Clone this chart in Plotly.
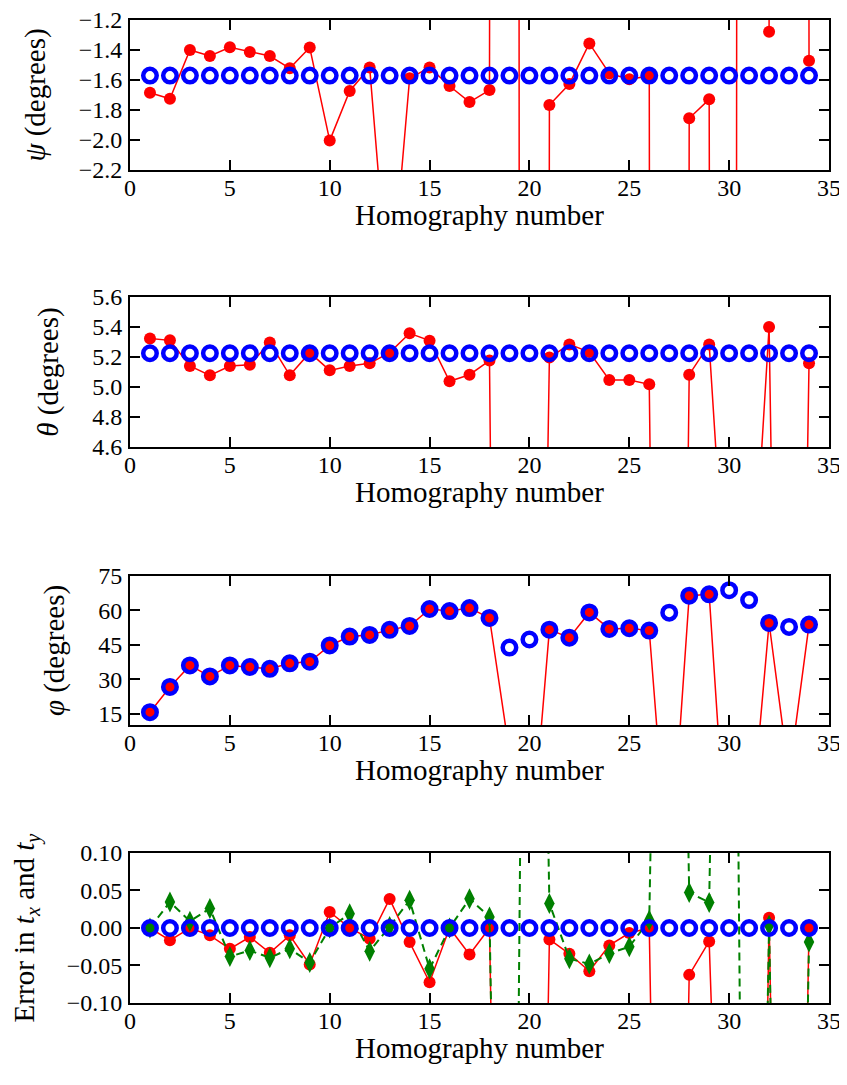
import plotly.graph_objects as go

# ---------------- data ----------------
homography = [1, 2, 3, 4, 5, 6, 7, 8, 9, 10, 11, 12, 13, 14, 15, 16, 17,
              18, 19, 20, 21, 22, 23, 24, 25, 26, 27, 28, 29, 30, 31, 32, 33, 34]

psi_true = [-1.5708, -1.5708, -1.5708, -1.5708, -1.5708, -1.5708, -1.5708,
            -1.5708, -1.5708, -1.5708, -1.5708, -1.5708, -1.5708, -1.5708,
            -1.5708, -1.5708, -1.5708, -1.5708, -1.5708, -1.5708, -1.5708,
            -1.5708, -1.5708, -1.5708, -1.5708, -1.5708, -1.5708, -1.5708,
            -1.5708, -1.5708, -1.5708, -1.5708, -1.5708, -1.5708]
psi_est = [-1.685, -1.725, -1.400, -1.440, -1.382, -1.413, -1.440, -1.522,
           -1.384, -2.004, -1.673, -1.516, -3.140, -1.589, -1.516, -1.640,
           -1.747, -1.667, 100.0, -110.0, -1.767, -1.627, -1.356, -1.556,
           -1.595, -1.573, -100.0, -1.855, -1.729, -62.5, 100.0, -1.278,
           100.0, -1.471]

theta_true = [5.225, 5.225, 5.225, 5.225, 5.225, 5.225, 5.225, 5.225, 5.225,
              5.225, 5.225, 5.225, 5.225, 5.225, 5.225, 5.225, 5.225, 5.225,
              5.225, 5.225, 5.225, 5.225, 5.225, 5.225, 5.225, 5.225, 5.225,
              5.225, 5.225, 5.225, 5.225, 5.225, 5.225, 5.225]
theta_est = [5.324, 5.311, 5.140, 5.078, 5.140, 5.149, 5.296, 5.078, 5.229,
             5.111, 5.140, 5.158, 5.229, 5.358, 5.309, 5.038, 5.082, 5.176,
             -8.0, -3.0, 5.196, 5.284, 5.233, 5.047, 5.047, 5.018, -6.0,
             5.082, 5.284, 3.2, 3.2, 5.400, -3.0, 5.158]

phi_true = [15.6, 26.6, 36.0, 31.2, 36.0, 35.3, 34.5, 36.9, 37.6, 44.7, 48.6,
            49.3, 51.5, 53.2, 60.6, 59.7, 61.0, 56.7, 43.8, 47.3, 51.6, 48.1,
            59.1, 51.9, 52.2, 51.2, 59.0, 66.4, 67.0, 68.8, 64.5, 54.5, 52.8,
            53.8]
phi_est = [15.6, 26.6, 36.0, 31.2, 36.0, 35.3, 34.5, 36.9, 37.6, 44.7, 48.6,
           49.3, 51.5, 53.2, 60.6, 59.7, 61.0, 56.7, -2.0, -53.0, 51.6, 48.1,
           59.1, 51.9, 52.2, 51.2, -60.0, 66.4, 67.0, -65.0, -44.0, 54.5,
           -12.0, 53.8]

t_true = [0.0, 0.0, 0.0, 0.0, 0.0, 0.0, 0.0, 0.0, 0.0, 0.0, 0.0, 0.0, 0.0,
          0.0, 0.0, 0.0, 0.0, 0.0, 0.0, 0.0, 0.0, 0.0, 0.0, 0.0, 0.0, 0.0,
          0.0, 0.0, 0.0, 0.0, 0.0, 0.0, 0.0, 0.0]
tx_err = [0.0, -0.0165, 0.0, -0.0098, -0.0277, -0.012, -0.033, -0.0098,
          -0.0487, 0.0214, 0.0, -0.0143, 0.0388, -0.0188, -0.0723, 0.0,
          -0.0353, 0.0, -1.5, -1.5, -0.0152, -0.0344, -0.0576, -0.0232,
          -0.0067, 0.0, -1.5, -0.0625, -0.0179, -0.8, -1.7, 0.0138, -1.5, 0.0]
ty_err = [0.0, 0.0348, 0.009, 0.026, -0.038, -0.030, -0.0397, -0.0277,
          -0.046, 0.0, 0.019, -0.031, 0.002, 0.037, -0.0545, 0.0, 0.039,
          0.0147, -1.5, 1.5, 0.0326, -0.041, -0.048, -0.034, -0.025, 0.0103,
          1.5, 0.0474, 0.034, 1.5, -1.5, 0.0036, -1.5, -0.0187]

y_titles = ["<i>ψ</i> (degrees)", "<i>θ</i> (degrees)", "<i>φ</i> (degrees)",
            "Error in <i>t<sub>x</sub></i> and <i>t<sub>y</sub></i>"]
x_title = "Homography number"

# ---------------- styling ----------------
FONT = "Liberation Serif"
RED = "#ff0000"
BLUE = "#0000ff"
GREEN = "#008000"

fig = go.Figure()


def red_trace(y, k):
    return go.Scatter(x=homography, y=y, mode="lines+markers",
                      line=dict(color=RED, width=1.5),
                      marker=dict(color=RED, size=12),
                      xaxis="x" if k == 1 else f"x{k}",
                      yaxis="y" if k == 1 else f"y{k}",
                      showlegend=False, hoverinfo="x+y")


def blue_trace(y, k):
    return go.Scatter(x=homography, y=y, mode="markers",
                      marker=dict(color=BLUE, size=13.5, symbol="circle-open",
                                  line=dict(width=4.5, color=BLUE)),
                      xaxis="x" if k == 1 else f"x{k}",
                      yaxis="y" if k == 1 else f"y{k}",
                      showlegend=False, hoverinfo="x+y")


fig.add_trace(red_trace(psi_est, 1))
fig.add_trace(blue_trace(psi_true, 1))
fig.add_trace(red_trace(theta_est, 2))
fig.add_trace(blue_trace(theta_true, 2))
fig.add_trace(red_trace(phi_est, 3))
fig.add_trace(blue_trace(phi_true, 3))
fig.add_trace(red_trace(tx_err, 4))
fig.add_trace(go.Scatter(x=homography, y=ty_err, mode="lines+markers",
                         line=dict(color=GREEN, width=2, dash="8px,5px"),
                         marker=dict(color=GREEN, size=15, symbol="diamond-tall"),
                         xaxis="x4", yaxis="y4", showlegend=False,
                         hoverinfo="x+y"))
fig.add_trace(blue_trace(t_true, 4))

domains = [[0.8474, 1.0], [0.5656, 0.7182], [0.2828, 0.4344], [0.0, 0.1526]]
yranges = [[-2.2, -1.2], [4.6, 5.6], [10, 75], [-0.1, 0.1]]
yticks = [dict(dtick=0.2, tick0=-2.2, tickformat=".1f"),
          dict(dtick=0.2, tick0=4.6, tickformat=".1f"),
          dict(tickmode="array", tickvals=[15, 30, 45, 60, 75]),
          dict(dtick=0.05, tick0=-0.1, tickformat=".2f")]
ystand = [25, 25, 25, 26]

common = dict(showline=True, linecolor="black", linewidth=2, mirror="allticks",
              ticks="inside", ticklen=10, tickwidth=1.5, tickcolor="black",
              showgrid=False, zeroline=False, automargin=False,
              ticklabeloverflow="allow",
              tickfont=dict(family=FONT, size=24, color="black"))

# page body has an 8px default margin: figure is sized/placed to compensate
layout = dict(width=835, height=1069, plot_bgcolor="white", paper_bgcolor="white",
              margin=dict(l=122, r=14, t=12, b=74), showlegend=False,
              font=dict(family=FONT, color="black"))

annotations = []
for k in range(1, 5):
    xs = "xaxis" if k == 1 else f"xaxis{k}"
    ys = "yaxis" if k == 1 else f"yaxis{k}"
    ya = "y" if k == 1 else f"y{k}"
    xa = "x" if k == 1 else f"x{k}"
    layout[xs] = dict(common, domain=[0, 1], range=[0, 35], dtick=5, tick0=0,
                      anchor=ya, ticklabelstandoff=-5)
    layout[ys] = dict(common, domain=domains[k - 1], range=yranges[k - 1],
                      anchor=xa, ticklabelstandoff=1, **yticks[k - 1],
                      title=dict(text=y_titles[k - 1], standoff=ystand[k - 1],
                                 font=dict(family=FONT, size=29, color="black")))
    annotations.append(dict(text=x_title, xref=f"{xa} domain", yref=f"{ya} domain",
                            x=0.5, y=0, xanchor="center", yanchor="middle",
                            yshift=-45, showarrow=False,
                            font=dict(family=FONT, size=29, color="black")))

layout["annotations"] = annotations
fig.update_layout(**layout)
fig.write_html("out.html")
